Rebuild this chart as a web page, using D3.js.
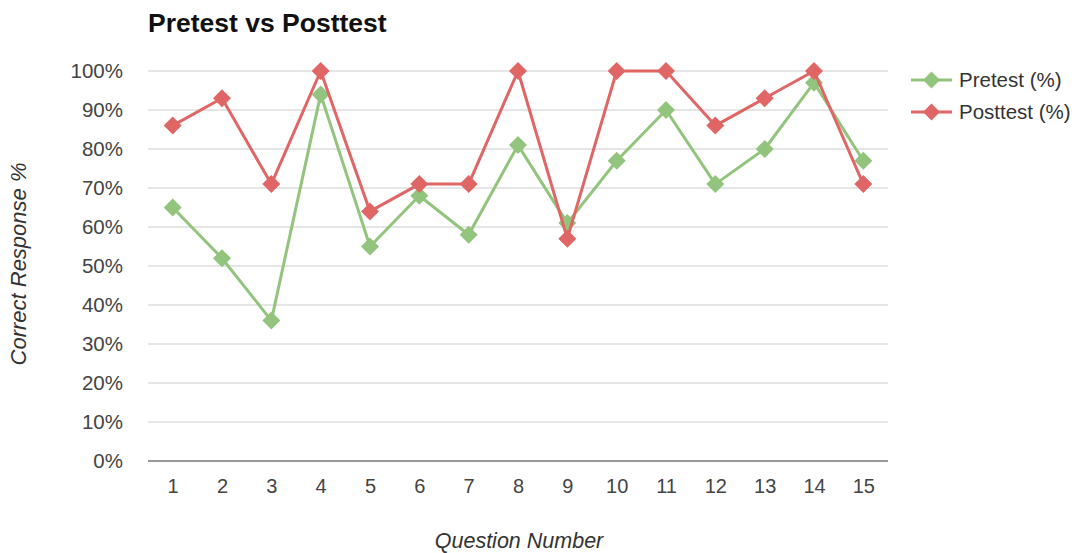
<!DOCTYPE html>
<html>
<head>
<meta charset="utf-8">
<script src="https://cdn.jsdelivr.net/npm/d3@7"></script>
<style>
  html, body { margin: 0; padding: 0; background: #fff; }
  svg { display: block; font-family: "Liberation Sans", Arial, sans-serif; }
</style>
</head>
<body>
<svg id="chart" width="1075" height="553"></svg>
<script>
// Question numbers along the x axis
const questions = [1, 2, 3, 4, 5, 6, 7, 8, 9, 10, 11, 12, 13, 14, 15];
// Percent of correct responses per question
const pretest  = [65, 52, 36, 94, 55, 68, 58, 81, 61, 77, 90, 71, 80, 97, 77];
const posttest = [86, 93, 71, 100, 64, 71, 71, 100, 57, 100, 100, 86, 93, 100, 71];
const yTicks = [0, 10, 20, 30, 40, 50, 60, 70, 80, 90, 100];
const seriesNames = ["Pretest (%)", "Posttest (%)"];
const seriesColors = ["#93c47d", "#e06666"];

const svg = d3.select("#chart");
const plotLeft = 148, plotRight = 888, plotTop = 71, plotBottom = 461;
const fontFamily = "Liberation Sans, Arial, sans-serif";

const x = d3.scalePoint().domain(questions).range([plotLeft, plotRight]).padding(0.5);
const y = d3.scaleLinear().domain([0, 100]).range([plotBottom, plotTop]);

// Title
svg.append("text")
  .attr("x", 148).attr("y", 32)
  .attr("font-size", 26.5).attr("font-weight", "bold").attr("fill", "#111")
  .text("Pretest vs Posttest");

// Horizontal gridlines
svg.append("g").selectAll("line").data(yTicks.filter(d => d > 0)).join("line")
  .attr("x1", plotLeft).attr("x2", plotRight)
  .attr("y1", d => y(d)).attr("y2", d => y(d))
  .attr("stroke", "#cccccc").attr("stroke-width", 1);

// Y axis labels
const yAxis = svg.append("g").attr("transform", `translate(${plotLeft},0)`)
  .call(d3.axisLeft(y).tickValues(yTicks).tickFormat(d => d + "%").tickSize(0).tickPadding(25));
yAxis.select(".domain").remove();
yAxis.selectAll("text").attr("font-size", 20.5).attr("fill", "#444").attr("font-family", fontFamily);

// X axis baseline and labels
const xAxis = svg.append("g").attr("transform", `translate(0,${plotBottom})`)
  .call(d3.axisBottom(x).tickSize(0).tickPadding(18));
xAxis.select(".domain").attr("stroke", "#333").attr("stroke-width", 1.2)
  .attr("d", `M${plotLeft},0H${plotRight}`);
xAxis.selectAll("text").attr("font-size", 20).attr("fill", "#444").attr("font-family", fontFamily);

// Axis titles
svg.append("text")
  .attr("x", 519).attr("y", 548)
  .attr("text-anchor", "middle").attr("font-size", 21.5).attr("font-style", "italic").attr("fill", "#333")
  .text("Question Number");
svg.append("text")
  .attr("transform", `translate(26,264) rotate(-90)`)
  .attr("text-anchor", "middle").attr("font-size", 22).attr("font-style", "italic").attr("fill", "#333")
  .text("Correct Response %");

const diamondPath = (cx, cy, r) => `M${cx},${cy - r}L${cx + r},${cy}L${cx},${cy + r}L${cx - r},${cy}Z`;

const line = d3.line().x((d, i) => x(questions[i])).y(d => y(d));

[pretest, posttest].forEach((vals, si) => {
  const g = svg.append("g");
  g.append("path").datum(vals)
    .attr("d", line).attr("fill", "none")
    .attr("stroke", seriesColors[si]).attr("stroke-width", 3).attr("stroke-linejoin", "round");
  g.selectAll("path.pt").data(vals).join("path").attr("class", "pt")
    .attr("d", (d, i) => diamondPath(x(questions[i]), y(d), 9))
    .attr("fill", seriesColors[si]);
});

// Legend
const legend = svg.append("g");
seriesNames.forEach((name, i) => {
  const ly = 80 + i * 32;
  legend.append("line").attr("x1", 911).attr("x2", 952).attr("y1", ly).attr("y2", ly)
    .attr("stroke", seriesColors[i]).attr("stroke-width", 3);
  legend.append("path").attr("d", diamondPath(931.5, ly, 8.5)).attr("fill", seriesColors[i]);
  legend.append("text").attr("x", 959).attr("y", ly + 7)
    .attr("font-size", 20.5).attr("fill", "#333").attr("font-family", fontFamily).text(name);
});
</script>
</body>
</html>
